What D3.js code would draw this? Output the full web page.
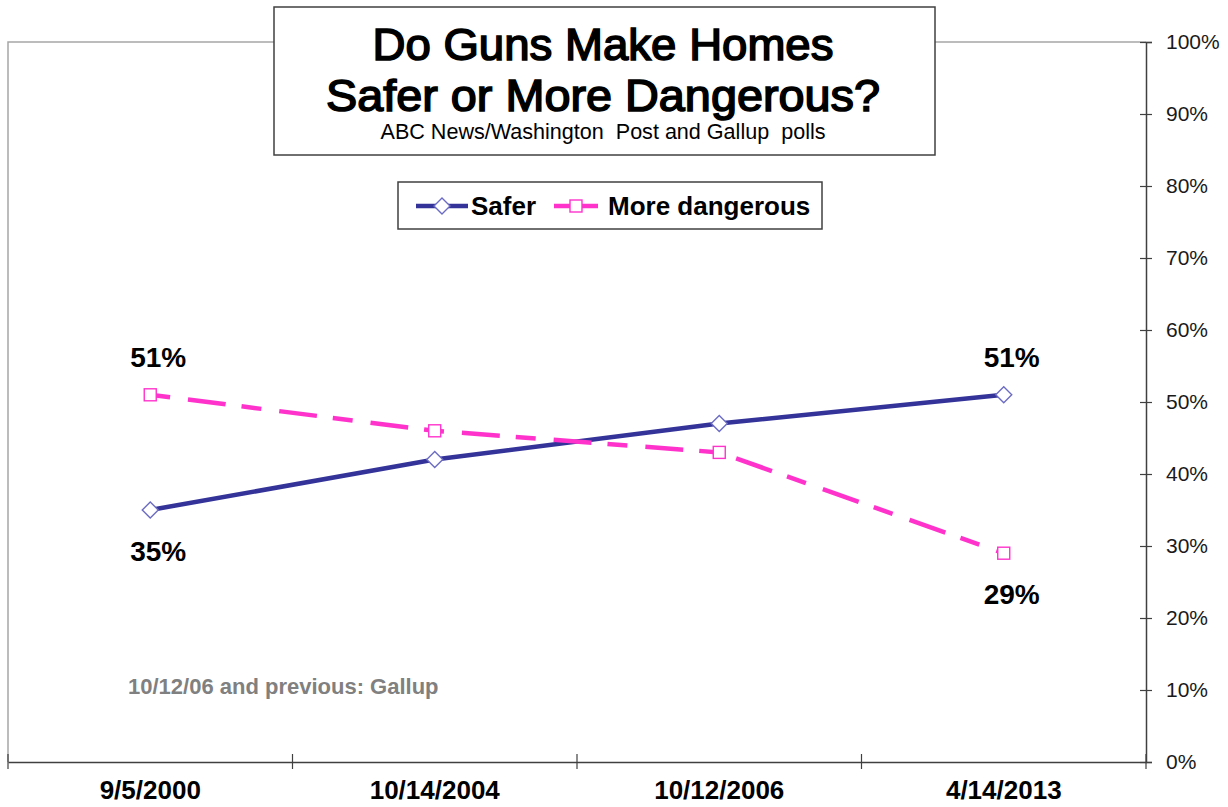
<!DOCTYPE html>
<html>
<head>
<meta charset="utf-8">
<script src="https://cdn.jsdelivr.net/npm/d3@7"></script>
<style>
  html, body { margin: 0; padding: 0; background: #fff; }
  svg { display: block; font-family: "Liberation Sans", Arial, sans-serif; }
</style>
</head>
<body>
<svg id="chart" width="1228" height="807"></svg>
<script>
// ---- data ----
const categories = ["9/5/2000", "10/14/2004", "10/12/2006", "4/14/2013"];
const safer = [35, 42, 47, 51];
const moreDangerous = [51, 46, 43, 29];
const yTicks = [0, 10, 20, 30, 40, 50, 60, 70, 80, 90, 100];
const titleLines = ["Do Guns Make Homes", "Safer or More Dangerous?"];
const subtitle = "ABC News/Washington  Post and Gallup  polls";
const seriesNames = ["Safer", "More dangerous"];
const footnote = "10/12/06 and previous: Gallup";
// labelled points: [series, index, position]
const labelled = [
  ["more", 0, "above"], ["safer", 0, "below"],
  ["safer", 3, "above"], ["more", 3, "below"]
];

const svg = d3.select("#chart");
const pLeft = 8, pRight = 1146, pTop = 42, pBottom = 762;

const x = d3.scaleBand().domain(categories).range([pLeft, pRight]).padding(0);
const y = d3.scaleLinear().domain([0, 100]).range([pBottom, pTop]);
const cx = c => x(c) + x.bandwidth() / 2;

const SAFER = "#333399", MORE = "#ff33cc";

// plot frame (grey top / left)
svg.append("path")
  .attr("d", `M${pLeft},${pBottom} L${pLeft},${pTop} L${pRight},${pTop}`)
  .attr("fill", "none").attr("stroke", "#a6a6a6").attr("stroke-width", 1.5);

// right y axis
const yAxis = svg.append("g")
  .attr("transform", `translate(${pRight},0)`)
  .call(d3.axisRight(y).tickValues(yTicks).tickSize(6).tickPadding(14)
    .tickFormat(d => d + "%"));
yAxis.select(".domain").attr("stroke", "#404040").attr("stroke-width", 1.5);
yAxis.selectAll(".tick line").attr("x1", -6).attr("stroke", "#404040").attr("stroke-width", 1.2);
yAxis.selectAll(".tick text").attr("font-size", 21).attr("fill", "#1a1a1a")
  .attr("font-family", "Liberation Sans, Arial, sans-serif");

// bottom x axis
const xAxis = svg.append("g")
  .attr("transform", `translate(0,${pBottom})`)
  .call(d3.axisBottom(x).tickSize(0).tickPadding(19));
xAxis.select(".domain").attr("stroke", "#404040").attr("stroke-width", 1.5);
xAxis.selectAll(".tick text").attr("font-size", 26).attr("font-weight", "bold")
  .attr("fill", "#000").attr("font-family", "Liberation Sans, Arial, sans-serif");
const bounds = categories.map(c => x(c)).concat([x.range()[1]]);
xAxis.selectAll("line.bound").data(bounds).join("line")
  .attr("class", "bound")
  .attr("x1", d => d).attr("x2", d => d)
  .attr("y1", -8).attr("y2", 7)
  .attr("stroke", "#404040").attr("stroke-width", 1.2);

// lines
const lineGen = d3.line().x((d, i) => cx(categories[i])).y(d => y(d));
svg.append("path").datum(safer).attr("d", lineGen)
  .attr("fill", "none").attr("stroke", SAFER).attr("stroke-width", 4.5);
svg.append("path").datum(moreDangerous).attr("d", lineGen)
  .attr("fill", "none").attr("stroke", MORE).attr("stroke-width", 4.5)
  .attr("stroke-dasharray", "20,18,38,16").attr("stroke-dashoffset", 0);

// markers
const diamond = (px, py, r) => `M${px},${py - r} L${px + r},${py} L${px},${py + r} L${px - r},${py} Z`;
svg.selectAll("path.dmark").data(safer).join("path")
  .attr("class", "dmark")
  .attr("d", (d, i) => diamond(cx(categories[i]), y(d), 8))
  .attr("fill", "#fff").attr("stroke", "#6b6bc4").attr("stroke-width", 1.4);
svg.selectAll("rect.smark").data(moreDangerous).join("rect")
  .attr("class", "smark")
  .attr("x", (d, i) => cx(categories[i]) - 6).attr("y", d => y(d) - 6)
  .attr("width", 12).attr("height", 12)
  .attr("fill", "#fff").attr("stroke", MORE).attr("stroke-width", 1.4);

// data labels
svg.selectAll("text.dlabel").data(labelled).join("text")
  .attr("class", "dlabel")
  .attr("x", d => cx(categories[d[1]]) + 8)
  .attr("y", d => {
    const v = (d[0] === "safer" ? safer : moreDangerous)[d[1]];
    return y(v) + (d[2] === "above" ? -28 : 51);
  })
  .attr("text-anchor", "middle").attr("font-size", 28).attr("font-weight", "bold")
  .attr("fill", "#000")
  .text(d => (d[0] === "safer" ? safer : moreDangerous)[d[1]] + "%");

// footnote
svg.append("text").attr("x", 128).attr("y", 694)
  .attr("font-size", 22).attr("font-weight", "bold").attr("fill", "#808080")
  .text(footnote);

// title box
svg.append("rect").attr("x", 274).attr("y", 7).attr("width", 661).attr("height", 148)
  .attr("fill", "#fff").attr("stroke", "#404040").attr("stroke-width", 1.5);
const tcx = 603;
const titleWidths = [461, 554];
svg.selectAll("text.title").data(titleLines).join("text")
  .attr("class", "title")
  .attr("x", tcx).attr("y", (d, i) => 60 + i * 51)
  .attr("text-anchor", "middle").attr("font-size", 45)
  .attr("textLength", (d, i) => titleWidths[i]).attr("lengthAdjust", "spacingAndGlyphs")
  .attr("fill", "#000").attr("stroke", "#000").attr("stroke-width", 1.6)
  .text(d => d);
svg.append("text").attr("x", tcx).attr("y", 139)
  .attr("text-anchor", "middle").attr("font-size", 21.5).attr("fill", "#000")
  .style("white-space", "pre")
  .attr("textLength", 445).attr("lengthAdjust", "spacingAndGlyphs")
  .text(subtitle);

// legend
const lg = svg.append("g");
lg.append("rect").attr("x", 398).attr("y", 182).attr("width", 424).attr("height", 47)
  .attr("fill", "#fff").attr("stroke", "#404040").attr("stroke-width", 1.5);
const ly = 206;
lg.append("line").attr("x1", 416).attr("x2", 468).attr("y1", ly).attr("y2", ly)
  .attr("stroke", SAFER).attr("stroke-width", 4.5);
lg.append("path").attr("d", diamond(442, ly, 8))
  .attr("fill", "#fff").attr("stroke", "#6b6bc4").attr("stroke-width", 1.4);
lg.append("text").attr("x", 471).attr("y", 215).attr("font-size", 26).attr("font-weight", "bold")
  .text(seriesNames[0]);
lg.append("line").attr("x1", 554).attr("x2", 598).attr("y1", ly).attr("y2", ly)
  .attr("stroke", MORE).attr("stroke-width", 4.5);
lg.append("rect").attr("x", 570).attr("y", ly - 6).attr("width", 12).attr("height", 12)
  .attr("fill", "#fff").attr("stroke", MORE).attr("stroke-width", 1.4);
lg.append("text").attr("x", 608).attr("y", 215).attr("font-size", 26).attr("font-weight", "bold")
  .text(seriesNames[1]);
</script>
</body>
</html>
